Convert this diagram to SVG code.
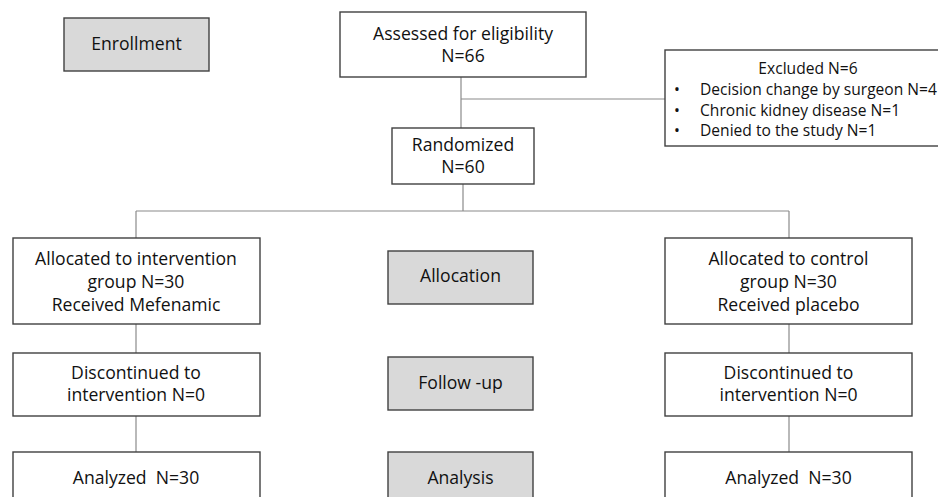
<svg xmlns="http://www.w3.org/2000/svg" width="938" height="497" viewBox="0 0 938 497">
<style>
.box{fill:#fff;stroke:#404040;stroke-width:1.4}
.stage{fill:#d9d9d9;stroke:#404040;stroke-width:1.4}
.t{font-family:"Open Sans","Liberation Sans",sans-serif;font-size:17.6px;fill:#111;text-anchor:middle}
.s{font-family:"Open Sans","Liberation Sans",sans-serif;font-size:15.6px;fill:#111}
.c{fill:none;stroke:#8a8a8a;stroke-width:1.2}
</style>
<rect width="938" height="497" fill="#fff"/>
<g id="connectors">
<path class="c" d="M461 77V128"/>
<path class="c" d="M461 99H665"/>
<path class="c" d="M463 184V211"/>
<path class="c" d="M136 211H789"/>
<path class="c" d="M136 211V238"/>
<path class="c" d="M789 211V238"/>
<path class="c" d="M136 324V353"/>
<path class="c" d="M136 416V452"/>
<path class="c" d="M789 324V353"/>
<path class="c" d="M789 416V452"/>
</g>
<g id="enrollment"><rect class="stage" x="64" y="18" width="145" height="53"/><text class="t" x="136.5" y="50">Enrollment</text></g>
<g id="assessed"><rect class="box" x="340" y="12" width="246" height="65"/><text class="t" x="463" y="40">Assessed for eligibility</text><text class="t" x="463" y="62">N=66</text></g>
<g id="excluded"><rect class="box" x="665" y="50" width="280" height="96"/>
<text class="s" x="808" y="74" text-anchor="middle">Excluded N=6</text>
<text class="s" x="674" y="95">•</text><text class="s" x="700" y="95">Decision change by surgeon N=4</text>
<text class="s" x="674" y="116">•</text><text class="s" x="700" y="116">Chronic kidney disease N=1</text>
<text class="s" x="674" y="136">•</text><text class="s" x="700" y="136">Denied to the study N=1</text>
</g>
<g id="randomized"><rect class="box" x="392" y="128" width="142" height="56"/><text class="t" x="463" y="151">Randomized</text><text class="t" x="463" y="173">N=60</text></g>
<g id="alloc-int"><rect class="box" x="13" y="238" width="247" height="86"/><text class="t" x="136" y="265">Allocated to intervention</text><text class="t" x="136" y="288">group N=30</text><text class="t" x="136" y="311">Received Mefenamic</text></g>
<g id="allocation"><rect class="stage" x="388" y="251" width="145" height="53"/><text class="t" x="460.5" y="282">Allocation</text></g>
<g id="alloc-ctrl"><rect class="box" x="665" y="238" width="247" height="86"/><text class="t" x="788.5" y="265">Allocated to control</text><text class="t" x="788.5" y="288">group N=30</text><text class="t" x="788.5" y="311">Received placebo</text></g>
<g id="disc-int"><rect class="box" x="13" y="353" width="247" height="63"/><text class="t" x="136" y="379">Discontinued to</text><text class="t" x="136" y="401">intervention N=0</text></g>
<g id="followup"><rect class="stage" x="388" y="357" width="145" height="53"/><text class="t" x="460.5" y="389">Follow -up</text></g>
<g id="disc-ctrl"><rect class="box" x="665" y="353" width="247" height="63"/><text class="t" x="788.5" y="379">Discontinued to</text><text class="t" x="788.5" y="401">intervention N=0</text></g>
<g id="analyzed-int"><rect class="box" x="13" y="452" width="247" height="60"/><text class="t" x="136" y="484">Analyzed&#160; N=30</text></g>
<g id="analysis"><rect class="stage" x="388" y="452" width="145" height="60"/><text class="t" x="460.5" y="484">Analysis</text></g>
<g id="analyzed-ctrl"><rect class="box" x="665" y="452" width="247" height="60"/><text class="t" x="788.5" y="484">Analyzed&#160; N=30</text></g>
</svg>
